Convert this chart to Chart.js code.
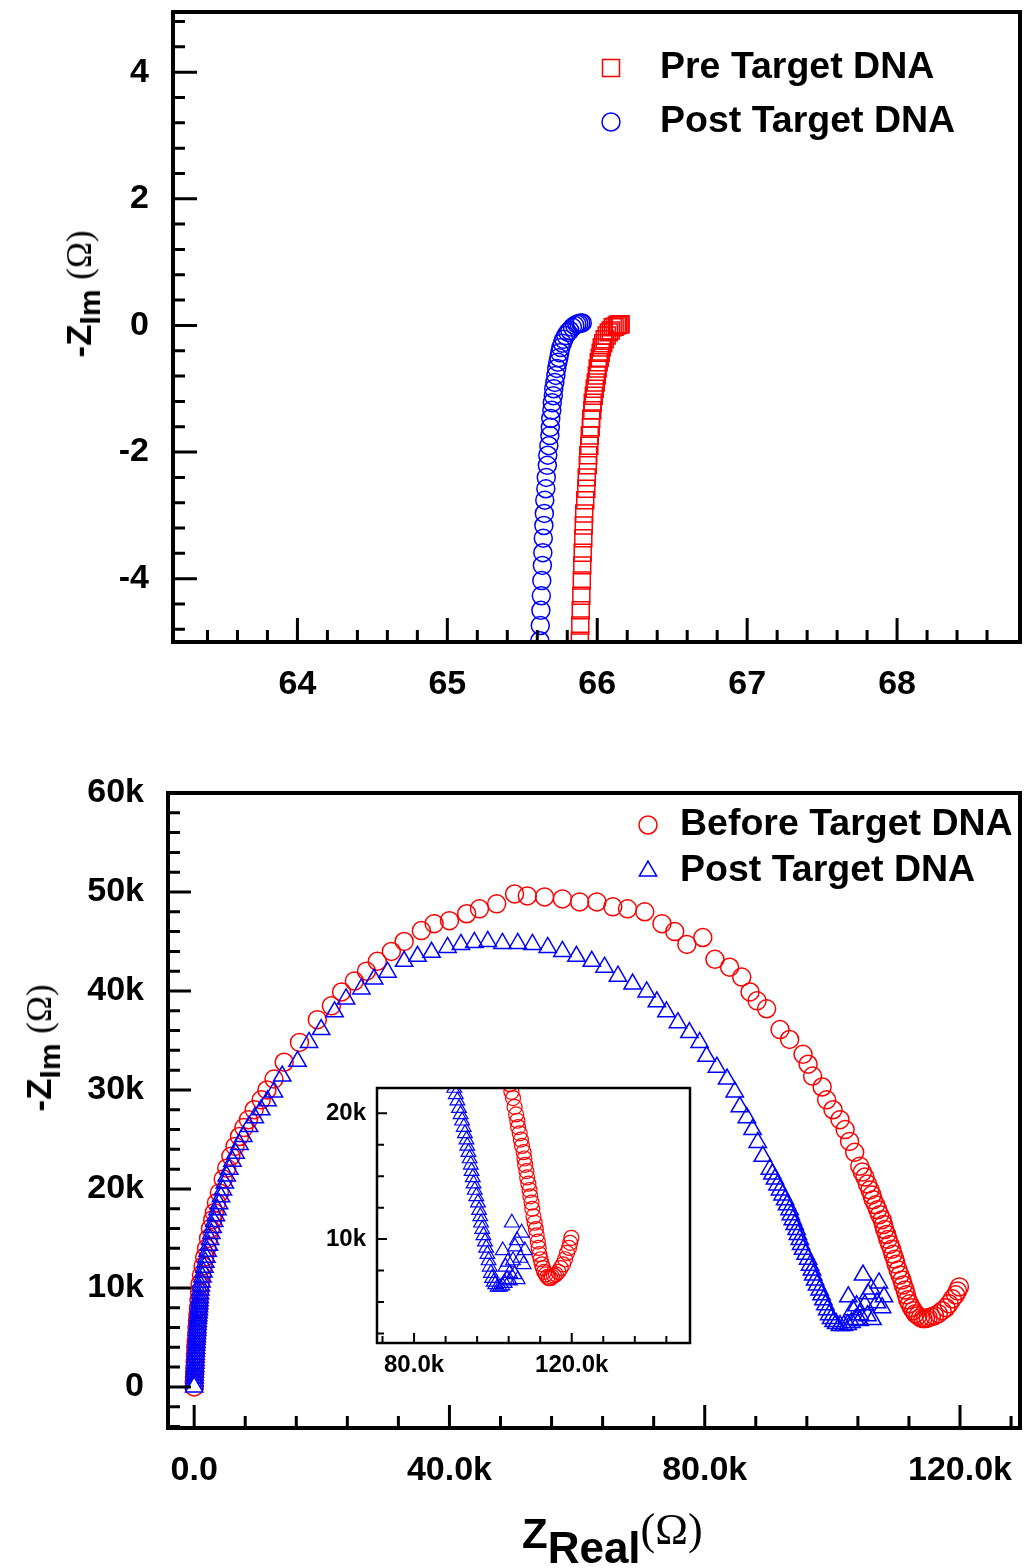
<!DOCTYPE html>
<html>
<head>
<meta charset="utf-8">
<title>Nyquist plots before and after target DNA</title>
<script src="https://cdn.jsdelivr.net/npm/chart.js@4.4.1/dist/chart.umd.min.js"></script>
<style>
  html, body { margin: 0; padding: 0; background: #fff; }
  #page { position: relative; width: 1024px; height: 1568px; overflow: hidden; font-family: "Liberation Sans", Arial, sans-serif; color: #000; }
  canvas { position: absolute; }
  #topChart { left: 0; top: 0; }
  #mainChart { left: 0; top: 740px; }
  #insetChart { left: 300px; top: 1078px; }
  .ytitle { position: absolute; transform: translate(-50%, -50%) rotate(-90deg); white-space: nowrap; font-weight: bold; font-size: 35px; line-height: 40px; }
  .ytitle .sub { font-size: 30px; position: relative; top: 9px; }
  .om { font-family: "Liberation Serif", "DejaVu Serif", serif; font-weight: normal; }
  .ytitle .om { font-size: 35px; }
  #xtitle { position: absolute; left: 522px; top: 1508px; white-space: nowrap; font-weight: bold; font-size: 42px; line-height: 50px; }
  #xtitle .sub { font-size: 44px; position: relative; top: 15px; }
  #xtitle .om { font-size: 44px; position: relative; top: -4px; }
</style>
</head>
<body>
<div id="page">
  <canvas id="topChart" width="1024" height="740"></canvas>
  <canvas id="mainChart" width="1024" height="828"></canvas>
  <canvas id="insetChart" width="400" height="310"></canvas>
  <div class="ytitle" style="left:80px; top:294px;">-Z<span class="sub">Im</span> <span class="om">(Ω)</span></div>
  <div class="ytitle" style="left:40px; top:1048px;">-Z<span class="sub">Im</span> <span class="om">(Ω)</span></div>
  <div id="xtitle">Z<span class="sub">Real</span><span class="om">(Ω)</span></div>
</div>
<script>
// top panel: high frequency end, values in ohm
const preTargetRe = [65.884, 65.887, 65.890, 65.894, 65.897, 65.900, 65.903, 65.907, 65.910, 65.913,
  65.920, 65.927, 65.930, 65.937, 65.940, 65.947, 65.950, 65.957, 65.960, 65.967,
  65.970, 65.977, 65.983, 65.990, 65.997, 66.003, 66.010, 66.017, 66.023, 66.030,
  66.040, 66.050, 66.063, 66.077, 66.090, 66.103, 66.116, 66.130, 66.140, 66.150, 66.156];
const preTargetIm = [-4.98, -4.74, -4.50, -4.27, -4.03, -3.79, -3.59, -3.36, -3.16, -2.97,
  -2.76, -2.58, -2.40, -2.21, -2.05, -1.90, -1.74, -1.61, -1.47, -1.34,
  -1.22, -1.11, -1.00, -0.90, -0.79, -0.68, -0.58, -0.51, -0.43, -0.35,
  -0.28, -0.22, -0.16, -0.11, -0.08, -0.03, -0.02, 0.00, 0.01, 0.02, 0.02];
const postTargetRe = [65.617, 65.620, 65.624, 65.627, 65.630, 65.634, 65.637, 65.640, 65.644, 65.647,
  65.650, 65.657, 65.660, 65.667, 65.670, 65.677, 65.684, 65.687, 65.690, 65.697,
  65.700, 65.707, 65.710, 65.717, 65.724, 65.730, 65.737, 65.744, 65.750, 65.757,
  65.767, 65.777, 65.790, 65.804, 65.817, 65.834, 65.850, 65.864, 65.877, 65.890, 65.900];
const postTargetIm = [-4.98, -4.74, -4.50, -4.27, -4.03, -3.79, -3.59, -3.36, -3.16, -2.97,
  -2.76, -2.58, -2.40, -2.21, -2.05, -1.90, -1.74, -1.61, -1.47, -1.34,
  -1.22, -1.11, -1.00, -0.90, -0.79, -0.68, -0.58, -0.51, -0.43, -0.35,
  -0.28, -0.22, -0.16, -0.11, -0.08, -0.03, 0.00, 0.02, 0.03, 0.04, 0.04];

// bottom panel: full spectra, values in kilo-ohm
const beforeRe = [0.0, 0.02, 0.04, 0.08, 0.12, 0.16, 0.2, 0.25, 0.32, 0.4,
  0.45, 0.52, 0.6, 0.68, 0.76, 0.85, 0.95, 1.15, 1.4, 1.65,
  1.95, 2.25, 2.55, 2.9, 3.15, 3.5, 3.95, 4.55, 5.1, 5.75,
  6.4, 7.1, 7.8, 8.5, 9.4, 10.5, 11.4, 12.5, 14.1, 16.5,
  19.3, 21.5, 23.1, 25.1, 27.0, 28.7, 30.9, 32.9, 35.6, 37.6,
  40.0, 42.7, 44.7, 47.4, 50.2, 52.2, 54.9, 57.7, 60.4, 63.1,
  65.6, 67.9, 70.6, 73.3, 75.3, 77.2, 79.7, 81.6, 83.9, 85.8,
  87.1, 88.2, 89.7, 91.8, 93.3, 95.4, 96.2, 96.9, 98.4, 99.1,
  100.1, 101.2, 102.0, 102.7, 103.5, 104.3, 104.7, 105.1, 105.5, 105.9,
  106.2, 106.4, 106.8, 107.1, 107.4, 107.8, 108.0, 108.2, 108.5, 108.7,
  109.0, 109.3, 109.5, 109.8, 110.0, 110.3, 110.6, 110.9, 111.1, 111.4,
  111.6, 111.8, 112.1, 112.4, 112.7, 113.0, 113.4, 113.8, 114.2, 114.6,
  115.0, 115.5, 116.0, 116.6, 117.2, 117.8, 118.3, 118.8, 119.3, 119.6,
  119.9];
const beforeIm = [0.0, 0.5, 1.0, 1.5, 2.0, 2.6, 3.3, 4.0, 4.6, 5.3,
  6.0, 6.7, 7.3, 8.0, 8.8, 9.6, 10.4, 11.3, 12.2, 13.1,
  14.0, 15.0, 16.0, 16.9, 17.6, 18.6, 19.6, 21.0, 22.1, 23.3,
  24.3, 25.3, 26.2, 27.0, 28.0, 29.0, 30.0, 31.1, 32.8, 34.8,
  37.1, 38.5, 39.9, 41.0, 42.0, 43.0, 44.0, 45.0, 46.1, 46.8,
  47.1, 47.8, 48.3, 48.8, 49.8, 49.6, 49.5, 49.3, 49.0, 49.0,
  48.5, 48.3, 48.0, 46.8, 46.0, 44.7, 45.4, 43.2, 42.4, 41.4,
  39.9, 39.0, 38.2, 36.1, 35.1, 33.6, 32.6, 31.4, 30.3, 29.0,
  28.0, 27.0, 26.0, 24.8, 23.7, 22.3, 21.7, 21.2, 20.5, 19.9,
  19.4, 18.9, 18.4, 17.9, 17.4, 16.9, 16.4, 15.9, 15.4, 14.9,
  14.4, 13.9, 13.4, 12.9, 12.4, 11.8, 11.3, 10.8, 10.3, 9.8,
  9.3, 8.8, 8.4, 8.0, 7.7, 7.4, 7.2, 7.0, 6.9, 6.9,
  7.0, 7.1, 7.2, 7.4, 7.7, 8.0, 8.4, 8.9, 9.3, 9.7,
  10.1];
const afterRe = [0.00, 0.02, 0.04, 0.06, 0.08, 0.10, 0.12, 0.14, 0.16, 0.18,
  0.20, 0.23, 0.26, 0.29, 0.32, 0.35, 0.38, 0.41, 0.44, 0.47,
  0.50, 0.53, 0.56, 0.60, 0.64, 0.68, 0.72, 0.76, 0.80, 0.84,
  0.88, 0.93, 0.98, 1.05, 1.15, 1.30, 1.45, 1.60, 1.75, 1.90,
  2.10, 2.30, 2.50, 2.70, 2.90, 3.15, 3.40, 3.65, 3.90, 4.20,
  4.50, 4.80, 5.10, 5.50, 6.00, 6.50, 7.10, 7.70, 8.60, 9.50,
  10.5, 11.5, 12.5, 13.8, 16.2, 18.0, 19.9, 22.0, 23.8, 26.2,
  28.2, 30.3, 32.9, 35.0, 37.2, 39.7, 41.8, 43.9, 46.0, 48.3,
  50.7, 53.0, 55.4, 57.7, 59.9, 62.3, 64.3, 66.4, 68.7, 70.9,
  72.5, 74.0, 75.8, 77.6, 79.2, 80.3, 81.9, 83.5, 84.7, 85.5,
  86.6, 87.5, 88.3, 89.1, 90.2, 90.6, 91.0, 91.4, 91.8, 92.2,
  92.6, 92.9, 93.3, 93.5, 93.8, 94.1, 94.4, 94.6, 94.9, 95.1,
  95.4, 95.8, 96.2, 96.5, 96.8, 97.0, 97.3, 97.6, 98.0, 98.3,
  98.6, 98.9, 99.2, 99.5, 99.8, 100.2, 100.6, 101.2, 101.8, 102.4,
  103.0, 103.6, 104.3, 102.5, 103.2, 103.8, 104.8, 105.1, 105.6, 106.1,
  107.3, 108.1, 104.3, 105.5, 106.3, 107.0, 107.8];
const afterIm = [0.0, 0.3, 0.6, 0.9, 1.2, 1.5, 1.8, 2.1, 2.4, 2.7,
  3.0, 3.3, 3.6, 3.9, 4.2, 4.5, 4.8, 5.1, 5.4, 5.7,
  6.0, 6.3, 6.6, 6.9, 7.2, 7.5, 7.8, 8.1, 8.4, 8.7,
  9.0, 9.4, 9.8, 10.2, 10.6, 11.1, 11.6, 12.1, 12.6, 13.1,
  13.7, 14.3, 14.9, 15.5, 16.1, 16.7, 17.3, 17.9, 18.5, 19.2,
  19.9, 20.6, 21.3, 22.0, 22.8, 23.6, 24.5, 25.3, 26.3, 27.2,
  28.0, 28.9, 29.8, 31.4, 32.9, 34.8, 36.1, 37.9, 39.2, 40.2,
  41.2, 41.9, 43.0, 43.5, 43.9, 44.4, 44.7, 44.9, 45.0, 44.8,
  44.8, 44.7, 44.4, 44.0, 43.5, 43.0, 42.4, 41.5, 40.7, 39.9,
  38.9, 37.9, 36.8, 35.8, 34.8, 33.4, 32.3, 31.1, 29.8, 28.3,
  27.2, 26.0, 24.7, 23.3, 22.0, 21.5, 21.0, 20.4, 19.9, 19.4,
  18.9, 18.4, 17.9, 17.4, 16.9, 16.4, 15.9, 15.4, 14.9, 14.4,
  13.9, 13.4, 12.9, 12.3, 11.8, 11.3, 10.8, 10.3, 9.8, 9.3,
  8.8, 8.3, 7.8, 7.3, 6.9, 6.6, 6.4, 6.2, 6.2, 6.3,
  6.5, 6.8, 7.3, 9.1, 7.8, 8.2, 11.3, 8.3, 9.4, 9.9,
  10.5, 9.1, 6.7, 7.2, 6.8, 8.5, 8.0];

// labelled tick values
const topXLabels = [64, 65, 66, 67, 68];
const topYLabels = [-4, -2, 0, 2, 4];
const mainXLabels = [0, 40, 80, 120];
const mainYLabels = [0, 10, 20, 30, 40, 50, 60];
const insetXLabels = [80, 120];
const insetYLabels = [10, 20];

const RED = '#ff0000';
const BLUE = '#0000ff';
const FONT = '"Liberation Sans", Arial, sans-serif';

function toPoints(xs, ys) {
  return xs.map((x, i) => ({ x: x, y: ys[i] }));
}

function steps(from, to, step) {
  const out = [];
  for (let v = from; v <= to + 1e-9; v += step) out.push(+v.toFixed(4));
  return out;
}

function drawMarker(ctx, style, x, y, r) {
  ctx.beginPath();
  if (style === 'rect') {
    const s = r * Math.SQRT1_2;
    ctx.rect(x - s, y - s, 2 * s, 2 * s);
  } else if (style === 'triangle') {
    ctx.moveTo(x, y - r);
    ctx.lineTo(x + r * Math.sin(2 * Math.PI / 3), y - r * Math.cos(2 * Math.PI / 3));
    ctx.lineTo(x + r * Math.sin(4 * Math.PI / 3), y - r * Math.cos(4 * Math.PI / 3));
    ctx.closePath();
  } else {
    ctx.arc(x, y, r, 0, Math.PI * 2);
  }
  ctx.stroke();
}

// box round the plot plus inward tick marks
const framePlugin = {
  id: 'frame',
  beforeDatasetsDraw(chart) {
    const { ctx, chartArea: a } = chart;
    ctx.save();
    ctx.fillStyle = '#fff';
    ctx.fillRect(a.left, a.top, a.right - a.left, a.bottom - a.top);
    ctx.restore();
  },
  afterDatasetsDraw(chart, args, o) {
    const { ctx, chartArea: a, scales } = chart;
    const isMajor = (list, v) => list.some(m => Math.abs(m - v) < 1e-6);
    ctx.save();
    ctx.strokeStyle = '#000';
    ctx.lineWidth = o.tickWidth;
    ctx.beginPath();
    o.xTicks.forEach(v => {
      const px = scales.x.getPixelForValue(v);
      const len = isMajor(o.xMajor, v) ? o.majorLen : o.minorLen;
      ctx.moveTo(px, a.bottom);
      ctx.lineTo(px, a.bottom - len);
    });
    o.yTicks.forEach(v => {
      const py = scales.y.getPixelForValue(v);
      const len = isMajor(o.yMajor, v) ? o.majorLen : o.minorLen;
      ctx.moveTo(a.left, py);
      ctx.lineTo(a.left + len, py);
    });
    ctx.stroke();
    ctx.lineWidth = o.width;
    ctx.strokeRect(a.left, a.top, a.right - a.left, a.bottom - a.top);
    ctx.restore();
  }
};

// legend drawn inside the plot, built from the datasets
const keyPlugin = {
  id: 'key',
  afterDraw(chart, args, o) {
    if (!o.show) return;
    const ctx = chart.ctx;
    ctx.save();
    ctx.font = 'bold ' + o.size + 'px ' + FONT;
    ctx.textBaseline = 'middle';
    chart.data.datasets.forEach((ds, i) => {
      const y = o.y + i * o.gap;
      ctx.strokeStyle = ds.pointBorderColor;
      ctx.lineWidth = ds.pointBorderWidth;
      drawMarker(ctx, ds.pointStyle, o.markerX, y, ds.keyRadius);
      ctx.fillStyle = '#000';
      ctx.fillText(ds.label, o.textX, y);
    });
    ctx.restore();
  }
};

function scatterSet(label, xs, ys, color, style, r, width, order) {
  return {
    label: label,
    data: toPoints(xs, ys).reverse(),
    showLine: false,
    pointStyle: style,
    pointRadius: r,
    keyRadius: r,
    pointBorderColor: color,
    borderColor: color,
    pointBorderWidth: width,
    pointBackgroundColor: c => (c.raw && c.raw.x === 0 ? '#fff' : 'rgba(0,0,0,0)'),
    backgroundColor: 'rgba(0,0,0,0)',
    order: order
  };
}

function axis(min, max, labels, fmt, fontSize, pad, fitKey, fitVal) {
  return {
    type: 'linear',
    min: min,
    max: max,
    grid: { display: false, drawTicks: false },
    border: { display: false },
    afterBuildTicks: s => { s.ticks = labels.map(v => ({ value: v })); },
    afterFit: s => {
      s[fitKey] = fitVal;
      s.paddingLeft = s.paddingRight = s.paddingTop = s.paddingBottom = 0;
    },
    ticks: {
      autoSkip: false,
      maxRotation: 0,
      padding: pad,
      color: '#000',
      font: { family: FONT, weight: 'bold', size: fontSize },
      callback: fmt
    }
  };
}

function baseOptions(padding) {
  return {
    responsive: false,
    animation: false,
    events: [],
    layout: { padding: padding, autoPadding: false },
    plugins: { legend: { display: false }, tooltip: { enabled: false } }
  };
}

// top panel
const topOpts = baseOptions({ left: 0, top: 12, right: 4, bottom: 0 });
topOpts.scales = {
  x: axis(63.17, 68.82, topXLabels, v => String(v), 34, 22, 'height', 98),
  y: axis(-5, 4.95, topYLabels, v => String(v), 34, 24, 'width', 173)
};
topOpts.plugins.frame = {
  width: 4, tickWidth: 3, majorLen: 24, minorLen: 12,
  xTicks: steps(63.4, 68.6, 0.2), xMajor: topXLabels,
  yTicks: steps(-4.8, 4.8, 0.4), yMajor: topYLabels
};
topOpts.plugins.key = { show: true, size: 37.5, markerX: 611, textX: 660, y: 68, gap: 54 };

new Chart(document.getElementById('topChart'), {
  type: 'scatter',
  data: {
    datasets: [
      scatterSet('Pre Target DNA', preTargetRe, preTargetIm, RED, 'rect', 12, 1.5, 1),
      scatterSet('Post Target DNA', postTargetRe, postTargetIm, BLUE, 'circle', 9, 1.5, 0)
    ]
  },
  options: topOpts,
  plugins: [framePlugin, keyPlugin]
});

// bottom panel
const kx = v => (v === 0 ? '0.0' : v.toFixed(1) + 'k');
const ky = v => (v === 0 ? '0' : v + 'k');

const mainOpts = baseOptions({ left: 0, top: 53, right: 4, bottom: 0 });
mainOpts.scales = {
  x: axis(-4.1, 129.4, mainXLabels, kx, 34, 22, 'height', 140),
  y: axis(-4.15, 60, mainYLabels, ky, 34, 24, 'width', 168)
};
mainOpts.plugins.frame = {
  width: 4, tickWidth: 3, majorLen: 23, minorLen: 12,
  xTicks: steps(0, 128, 8), xMajor: mainXLabels,
  yTicks: steps(-4, 58, 2), yMajor: mainYLabels
};
mainOpts.plugins.key = { show: true, size: 37.5, markerX: 648, textX: 680, y: 85, gap: 46 };

new Chart(document.getElementById('mainChart'), {
  type: 'scatter',
  data: {
    datasets: [
      scatterSet('Before Target DNA', beforeRe, beforeIm, RED, 'circle', 9, 1.5, 1),
      scatterSet('Post Target DNA', afterRe, afterIm, BLUE, 'triangle', 10, 1.5, 0)
    ]
  },
  options: mainOpts,
  plugins: [framePlugin, keyPlugin]
});

// inset: zoom on the low frequency minimum
const insetOpts = baseOptions({ left: 0, top: 10, right: 10, bottom: 0 });
insetOpts.scales = {
  x: axis(70.6, 150, insetXLabels, v => v.toFixed(1) + 'k', 24, 8, 'height', 45),
  y: axis(1.75, 22, insetYLabels, v => v + 'k', 24, 11, 'width', 77)
};
insetOpts.plugins.frame = {
  width: 2.5, tickWidth: 2, majorLen: 10, minorLen: 7,
  xTicks: steps(72, 144, 8), xMajor: insetXLabels,
  yTicks: steps(2.5, 20, 2.5), yMajor: insetYLabels
};
insetOpts.plugins.key = { show: false };

new Chart(document.getElementById('insetChart'), {
  type: 'scatter',
  data: {
    datasets: [
      scatterSet('Before Target DNA', beforeRe, beforeIm, RED, 'circle', 7.5, 1.2, 1),
      scatterSet('Post Target DNA', afterRe, afterIm, BLUE, 'triangle', 8.5, 1.2, 0)
    ]
  },
  options: insetOpts,
  plugins: [framePlugin, keyPlugin]
});
</script>
</body>
</html>
